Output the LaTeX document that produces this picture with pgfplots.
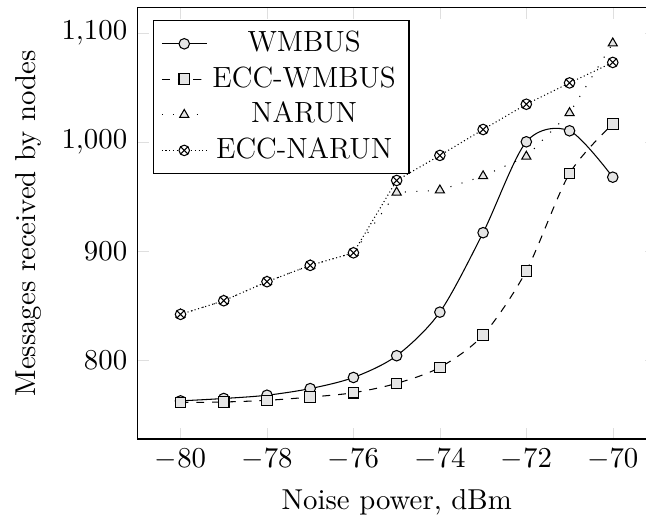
\documentclass[border=0pt]{standalone}
\usepackage{pgfplots}
\pgfplotsset{compat=1.18}

\begin{document}
\fontsize{10.95}{13.6}\selectfont
\begin{tikzpicture}
\begin{axis}[
  scale only axis,
  width=197.2pt, height=164.1pt,
  xmin=-81, xmax=-69,
  ymin=727.5, ymax=1124,
  xtick={-80,-78,-76,-74,-72,-70},
  ytick={800,900,1000,1100},
  major tick style={gray!25},
  xlabel={Noise power, dBm},
  ylabel={Messages received by nodes},
  legend pos=north west,
  legend cell align=center,
  legend style={draw=black, font=\fontsize{11.1}{13.6}\selectfont},
]
\coordinate (O) at (rel axis cs:0,0);

\addplot[black, solid, smooth, mark=*, mark options={solid, fill=gray!20}] coordinates {
  (-80,762.5) (-79,764.7) (-78,767.7) (-77,773.8) (-76,784) (-75,804)
  (-74,844) (-73,917) (-72,1000.5) (-71,1010.6) (-70,968)
};
\addlegendentry{WMBUS}

\addplot[black, dashed, smooth, mark=square*, mark options={solid, fill=gray!20}] coordinates {
  (-80,761) (-79,761.5) (-78,763) (-77,766) (-76,770) (-75,778.6)
  (-74,793.3) (-73,823) (-72,882) (-71,971.4) (-70,1016.7)
};
\addlegendentry{ECC-WMBUS}

\addplot[black, loosely dotted, mark=triangle*, mark options={solid, fill=gray!20}] coordinates {
  (-80,842) (-79,854.5) (-78,872) (-77,887) (-76,898.5) (-75,954)
  (-74,956) (-73,969) (-72,987) (-71,1027) (-70,1091)
};
\addlegendentry{NARUN}

\addplot[black, densely dotted, mark=otimes*, mark options={solid, fill=white}] coordinates {
  (-80,842) (-79,854.5) (-78,872) (-77,887) (-76,898.5) (-75,965)
  (-74,988) (-73,1011.8) (-72,1035) (-71,1054.6) (-70,1073.4)
};
\addlegendentry{ECC-NARUN}
\end{axis}
\pgfresetboundingbox
\useasboundingbox ([shift={(-52.2pt,-30.4pt)}]O) rectangle ([shift={(193.4pt,166.9pt)}]O);
\end{tikzpicture}
\end{document}
